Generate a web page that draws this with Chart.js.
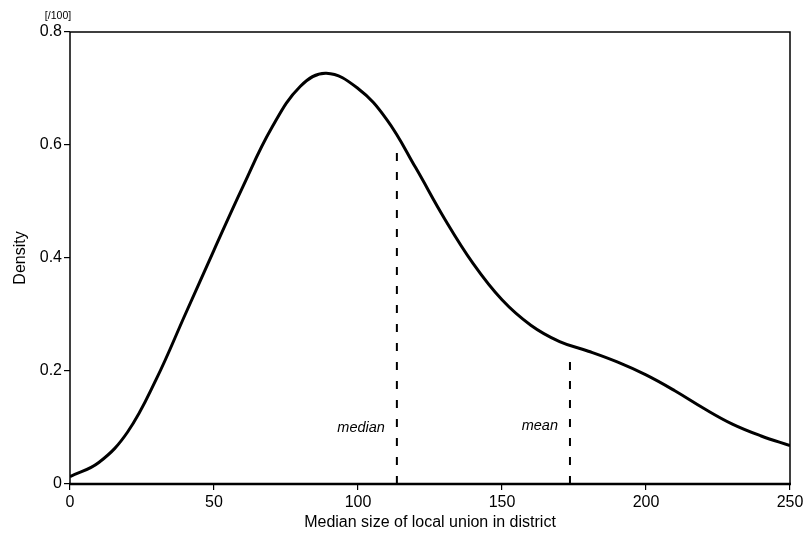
<!DOCTYPE html>
<html>
<head>
<meta charset="utf-8">
<script src="https://cdn.jsdelivr.net/npm/chart.js@4/dist/chart.umd.min.js"></script>
<style>
  html, body { margin: 0; padding: 0; background: #fff; }
  #wrap { width: 803px; height: 534px; }
</style>
</head>
<body>
<div id="wrap"><canvas id="densityChart" width="803" height="534"></canvas></div>
<script>
// kernel density of median local union size
const sizeValues = [0, 10, 20, 30, 40, 50, 60, 70, 80, 89, 100, 110, 120, 130, 140, 150, 160, 170, 180, 190, 200, 210, 220, 230, 240, 250];
const densityValues = [0.013, 0.038, 0.092, 0.186, 0.300, 0.414, 0.526, 0.630, 0.704, 0.727, 0.70, 0.645, 0.56, 0.47, 0.39, 0.326, 0.281, 0.252, 0.235, 0.216, 0.193, 0.165, 0.134, 0.106, 0.085, 0.068];

const markerNames = ['median', 'mean'];
const markerX = [113.5, 173.6];
const markerTop = [0.595, 0.225];

const xTicks = [0, 50, 100, 150, 200, 250];
const yTicks = [0, 0.2, 0.4, 0.6, 0.8];

const FONT = "'Liberation Sans', Arial, sans-serif";

const curve = sizeValues.map((x, i) => ({ x: x, y: densityValues[i] }));

const markerSets = markerNames.map((name, i) => ({
    label: name,
    data: [{ x: markerX[i], y: 0 }, { x: markerX[i], y: markerTop[i] }],
    borderColor: '#000',
    borderWidth: 2,
    borderDash: [8, 11],
    pointRadius: 0,
    fill: false
}));

// frame, marker labels and the [/100] note
const extras = {
    id: 'extras',
    afterDraw(chart) {
        const { ctx, chartArea: a, scales: { x, y } } = chart;
        ctx.save();
        ctx.strokeStyle = '#000';
        ctx.lineWidth = 1.5;
        ctx.beginPath();
        ctx.moveTo(a.left, a.bottom);
        ctx.lineTo(a.left, a.top);
        ctx.lineTo(a.right, a.top);
        ctx.lineTo(a.right, a.bottom);
        ctx.stroke();
        ctx.lineWidth = 2.5;
        ctx.beginPath();
        ctx.moveTo(a.left - 1, a.bottom);
        ctx.lineTo(a.right + 1, a.bottom);
        ctx.stroke();

        ctx.fillStyle = '#000';
        ctx.font = "italic 14.5px " + FONT;
        ctx.textAlign = 'right';
        ctx.textBaseline = 'middle';
        markerNames.forEach((name, i) => {
            ctx.fillText(name, x.getPixelForValue(markerX[i]) - 12, y.getPixelForValue(0.1) - i * 2);
        });

        ctx.font = "10.5px " + FONT;
        ctx.textAlign = 'center';
        ctx.fillText('[/100]', a.left - 12, 16);
        ctx.restore();
    }
};

new Chart(document.getElementById('densityChart'), {
    type: 'line',
    data: {
        datasets: [{
            label: 'Density',
            data: curve,
            borderColor: '#000',
            borderWidth: 3,
            pointRadius: 0,
            tension: 0.4,
            fill: false
        }, ...markerSets]
    },
    options: {
        responsive: false,
        animation: false,
        devicePixelRatio: 1,
        layout: { padding: { left: 0, top: 32, right: 13, bottom: 0 } },
        plugins: {
            legend: { display: false },
            tooltip: { enabled: false }
        },
        scales: {
            x: {
                type: 'linear',
                min: 0,
                max: 250,
                afterBuildTicks: s => { s.ticks = xTicks.map(v => ({ value: v })); },
                afterFit: s => { s.height = 50; s.paddingLeft = 0; s.paddingRight = 0; },
                border: { display: false },
                grid: { drawOnChartArea: false, drawTicks: true, tickLength: 6, color: '#000', lineWidth: 1.2 },
                ticks: { color: '#000', font: { family: FONT, size: 16 }, padding: 3, maxRotation: 0 },
                title: {
                    display: true,
                    text: 'Median size of local union in district',
                    color: '#000',
                    font: { family: FONT, size: 16 },
                    padding: { top: 0, bottom: 2 }
                }
            },
            y: {
                min: 0,
                max: 0.8,
                afterBuildTicks: s => { s.ticks = yTicks.map(v => ({ value: v })); },
                afterFit: s => { s.width = 70; s.paddingTop = 0; s.paddingBottom = 0; },
                border: { display: false },
                grid: { drawOnChartArea: false, drawTicks: true, tickLength: 6, color: '#000', lineWidth: 1.2 },
                ticks: {
                    color: '#000',
                    font: { family: FONT, size: 16 },
                    padding: 2,
                    callback: v => String(Math.round(v * 10) / 10)
                },
                title: {
                    display: true,
                    text: 'Density',
                    color: '#000',
                    font: { family: FONT, size: 16 },
                    padding: { top: 11, bottom: 0 }
                }
            }
        }
    },
    plugins: [extras]
});
</script>
</body>
</html>
